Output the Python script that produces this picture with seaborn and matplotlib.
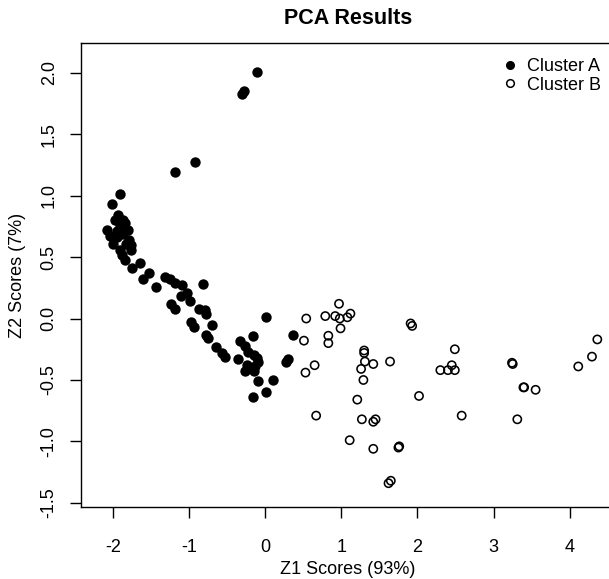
import matplotlib
matplotlib.use("Agg")
import matplotlib.pyplot as plt
from matplotlib.lines import Line2D
import seaborn as sns
import pandas as pd

# ---- data ----
a_x = [-0.10, -0.30, -0.28, -0.92, -1.18, -1.91, -2.01,
       -1.93, -1.97, -1.87, -1.84, -1.91, -1.80, -1.94, -2.08, -2.04, -1.79,
       -1.82, -1.99, -1.76, -1.90, -1.76, -1.88, -1.84, -1.64, -1.75, -1.53,
       -1.60, -1.31, -1.25, -1.18, -1.09, -1.43, -0.81, -1.95, -1.86,
       -1.03, -1.11, -0.99, -1.23, -1.18, -0.87, -0.79, -0.78, -0.97, -0.93,
       -0.70, -0.77, -0.75, -0.64, -0.57, -0.53, -0.36, -0.33, -0.26, -0.16,
       -0.22, -0.15, -0.11, -0.09, -0.24, -0.13, -0.26, -0.15, -0.09, 0.10,
       0.01, -0.16, 0.01, 0.37, 0.28, 0.30]
a_y = [2.01, 1.83, 1.85, 1.27, 1.19, 1.01, 0.93,
       0.84, 0.80, 0.80, 0.78, 0.76, 0.72, 0.71, 0.72, 0.67, 0.64,
       0.61, 0.61, 0.60, 0.56, 0.56, 0.52, 0.48, 0.45, 0.41, 0.37,
       0.32, 0.34, 0.32, 0.29, 0.27, 0.26, 0.28, 0.66, 0.69,
       0.21, 0.18, 0.14, 0.12, 0.08, 0.08, 0.07, 0.04, -0.03, -0.07,
       -0.05, -0.13, -0.16, -0.23, -0.28, -0.31, -0.33, -0.18, -0.22, -0.14,
       -0.27, -0.30, -0.32, -0.35, -0.38, -0.39, -0.43, -0.43, -0.51, -0.50,
       -0.60, -0.64, 0.01, -0.13, -0.35, -0.33]

b_x = [0.54, 0.51, 0.65, 0.53, 0.67, 0.79, 0.83, 0.83, 0.92, 0.97, 0.98,
       0.99, 1.08, 1.12, 1.11, 1.21, 1.27, 1.26, 1.29, 1.30, 1.30, 1.31,
       1.42, 1.42, 1.45, 1.42, 1.62, 1.65, 1.64, 1.75, 1.76, 1.91, 1.93,
       2.02, 2.30, 2.40, 2.45, 2.49, 2.49, 2.58, 3.24, 3.25, 3.39, 3.40,
       3.55, 3.31, 4.11, 4.29, 4.36]
b_y = [0.00, -0.18, -0.38, -0.44, -0.79, 0.02, -0.14, -0.20, 0.02, 0.12, 0.00,
       -0.08, 0.01, 0.04, -0.99, -0.66, -0.82, -0.41, -0.50, -0.26, -0.28, -0.35,
       -0.37, -0.84, -0.82, -1.06, -1.34, -1.32, -0.35, -1.05, -1.04, -0.04, -0.06,
       -0.63, -0.42, -0.42, -0.38, -0.42, -0.25, -0.79, -0.36, -0.37, -0.56, -0.56,
       -0.58, -0.82, -0.39, -0.31, -0.17]

cluster_names = ["Cluster A", "Cluster B"]
x_ticks = [-2, -1, 0, 1, 2, 3, 4]
y_ticks = [-1.5, -1.0, -0.5, 0.0, 0.5, 1.0, 1.5, 2.0]
title = "PCA Results"
x_label = "Z1 Scores (93%)"
y_label = "Z2 Scores (7%)"

df_a = pd.DataFrame({"Z1": a_x, "Z2": a_y})
df_b = pd.DataFrame({"Z1": b_x, "Z2": b_y})

sns.set_style("ticks")
plt.rcParams["font.family"] = ["Liberation Sans", "DejaVu Sans"]
plt.rcParams["font.size"] = 13
for k in ["text.color", "axes.labelcolor", "xtick.color", "ytick.color",
          "axes.edgecolor"]:
    plt.rcParams[k] = "black"

FS = 13
W, H = 609, 579
fig = plt.figure(figsize=(W / 100, H / 100), dpi=100)
L, R, T, B = 81.3, 614.0, 43.0, 507.3
ax = fig.add_axes([L / W, 1 - B / H, (R - L) / W, (B - T) / H])

sns.scatterplot(data=df_a, x="Z1", y="Z2", ax=ax, color="black", s=56,
                linewidth=0, legend=False)
sns.scatterplot(data=df_b, x="Z1", y="Z2", ax=ax, facecolor="none",
                edgecolor="black", s=35, linewidth=1.15, legend=False)

ax.set_xlim(-2.412, 4.579)
ax.set_ylim(-1.536, 2.242)
ax.set_xticks(x_ticks)
ax.set_xticklabels([f"{v:g}" for v in x_ticks])
ax.set_yticks(y_ticks)
ax.set_yticklabels([f"{v:.1f}" for v in y_ticks])
ax.tick_params(axis="both", direction="out", length=8, width=1.0,
               labelsize=FS, color="black", labelcolor="black")
ax.tick_params(axis="x", pad=15)
ax.tick_params(axis="y", pad=9, labelrotation=90)
for lab in ax.get_yticklabels():
    lab.set_va("center")
for sp in ax.spines.values():
    sp.set_visible(True)
    sp.set_linewidth(1.0)
    sp.set_color("black")

ax.set_xlabel("")
ax.set_ylabel("")
fig.text((L + R) / 2 / W, 1 - 18 / H, title, ha="center", va="center",
         fontsize=15.5, fontweight="bold")
fig.text((L + R) / 2 / W, 1 - 570 / H, x_label, ha="center", va="center",
         fontsize=FS)
fig.text(18 / W, 1 - (T + B) / 2 / H, y_label, ha="center", va="center",
         rotation=90, fontsize=FS)

handles = [
    Line2D([], [], linestyle="none", marker="o", markersize=5.5,
           markerfacecolor="black", markeredgecolor="black"),
    Line2D([], [], linestyle="none", marker="o", markersize=5.5,
           markerfacecolor="none", markeredgecolor="black", markeredgewidth=1.1),
]
leg = ax.legend(handles, cluster_names, loc="upper left",
                bbox_to_anchor=(502 / W, 1 - 58 / H),
                bbox_transform=fig.transFigure, frameon=False,
                handlelength=0.9, handletextpad=0.5, borderpad=0,
                borderaxespad=0, labelspacing=0.1, fontsize=FS)

fig.savefig("out.png", dpi=100)
